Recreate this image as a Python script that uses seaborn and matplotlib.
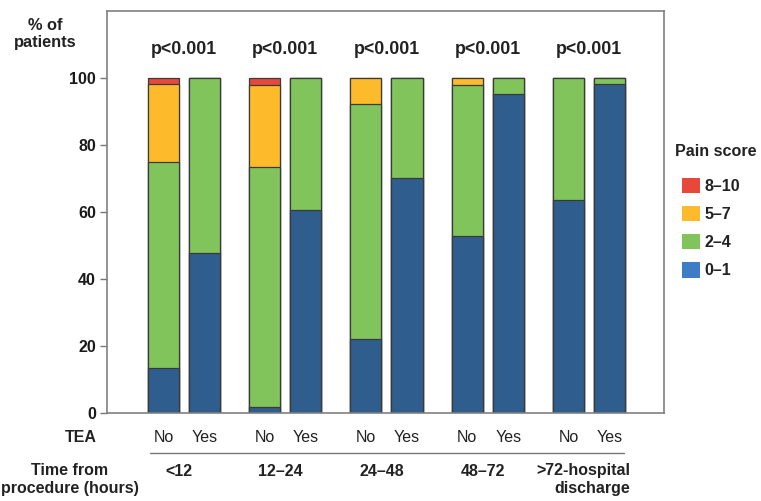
import matplotlib
matplotlib.use("Agg")
import matplotlib.pyplot as plt
import seaborn as sns
import pandas as pd
import numpy as np
from matplotlib.patches import Patch
from matplotlib.lines import Line2D
from matplotlib.transforms import blended_transform_factory

groups = ["<12", "12\u201324", "24\u201348", "48\u201372", ">72-hospital\ndischarge"]
tea = ["No", "Yes"]
p_values = ["p<0.001"] * 5
score_labels = ["8\u201310", "5\u20137", "2\u20134", "0\u20131"]

# percentages per (group, TEA) in order: No, Yes for each group
score_0_1 = [13.4, 47.9, 2.0, 60.7, 22.0, 70.2, 52.7, 95.2, 63.7, 98.2]
score_2_4 = [61.6, 52.1, 71.5, 39.3, 70.3, 29.8, 45.2, 4.8, 36.3, 1.8]
score_5_7 = [23.2, 0.0, 24.4, 0.0, 7.7, 0.0, 2.1, 0.0, 0.0, 0.0]
score_8_10 = [1.8, 0.0, 2.1, 0.0, 0.0, 0.0, 0.0, 0.0, 0.0, 0.0]

bar_colors = {"8\u201310": "#E8483C", "5\u20137": "#FDBB2B", "2\u20134": "#82C45C", "0\u20131": "#2F5D8D"}
legend_colors = {"8\u201310": "#E8483C", "5\u20137": "#FDBB2B", "2\u20134": "#82C45C", "0\u20131": "#3E7DC6"}

sns.set_style("white")
plt.rcParams["font.family"] = ["Liberation Sans", "DejaVu Sans"]

df = pd.DataFrame({
    "group": [g for g in groups for _ in tea],
    "TEA": tea * len(groups),
    "0\u20131": score_0_1,
    "2\u20134": score_2_4,
    "5\u20137": score_5_7,
    "8\u201310": score_8_10,
})
df["c0"] = df["0\u20131"]
df["c1"] = df["c0"] + df["2\u20134"]
df["c2"] = df["c1"] + df["5\u20137"]
df["c3"] = df["c2"] + df["8\u201310"]

W, H = 761, 501
fig = plt.figure(figsize=(W / 100, H / 100), dpi=100)
ax_left, ax_right, ax_top, ax_bot = 107, 664, 10.7, 413.3
ax = fig.add_axes([ax_left / W, 1 - ax_bot / H, (ax_right - ax_left) / W, (ax_bot - ax_top) / H])

layers = [("c3", "8\u201310"), ("c2", "5\u20137"), ("c1", "2\u20134"), ("c0", "0\u20131")]
for col, lab in layers:
    c = bar_colors[lab]
    sns.barplot(data=df, x="group", y=col, hue="TEA", hue_order=tea, order=groups,
                palette={"No": c, "Yes": c}, dodge=True, width=0.812, gap=0.244,
                saturation=1, edgecolor="#3a3a3a", linewidth=0.9, legend=False,
                ax=ax, errorbar=None)

ax.set_xlim(-0.760, 4.741)
ax.set_ylim(0, 120)
ax.set_yticks([0, 20, 40, 60, 80, 100])
ax.set_yticklabels(["0", "20", "40", "60", "80", "100"], fontsize=11.5, fontweight="bold", color="#1a1a1a")
ax.set_xticks([])
ax.set_xlabel("")
ax.set_ylabel("")
ax.tick_params(axis="y", direction="out", length=5, width=1, color="#777777", pad=3, left=True)
for s in ax.spines.values():
    s.set_color("#808080")
    s.set_linewidth(1.2)

# p-values
for i, p in enumerate(p_values):
    ax.text(i, 108.5, p, ha="center", va="center", fontsize=12.8, fontweight="bold", color="#222222")

def fy(py):
    return 1 - py / H

trans = blended_transform_factory(ax.transData, fig.transFigure)
offset = 0.203
for i in range(len(groups)):
    ax.text(i - offset, fy(437), "No", transform=trans, ha="center", va="center", fontsize=11.5, color="#222222")
    ax.text(i + offset, fy(437), "Yes", transform=trans, ha="center", va="center", fontsize=11.5, color="#222222")

for i, g in enumerate(groups[:-1]):
    ax.text(i - 0.05, fy(472), g, transform=trans, ha="center", va="center", fontsize=11.5, fontweight="bold", color="#222222")
fig.text(630 / W, fy(463), groups[-1], ha="right", va="top", fontsize=11.5, fontweight="bold",
         color="#222222", linespacing=1.25)

fig.text(81 / W, fy(437), "TEA", ha="center", va="center", fontsize=11.5, fontweight="bold", color="#222222")
fig.text(70 / W, fy(463), "Time from\nprocedure (hours)", ha="center", va="top", fontsize=11.5,
         fontweight="bold", color="#222222", linespacing=1.25)
fig.text(45 / W, fy(18), "% of\npatients", ha="center", va="top", fontsize=11.8, fontweight="bold",
         color="#222222", linespacing=1.2)

fig.add_artist(Line2D([150 / W, 624 / W], [fy(453), fy(453)], transform=fig.transFigure,
                      color="#777777", linewidth=1.0))

# legend
fig.text(675 / W, fy(151), "Pain score", ha="left", va="center", fontsize=11.6,
         fontweight="bold", color="#222222")
handles = [Patch(facecolor=legend_colors[l], edgecolor="none") for l in score_labels]
leg = fig.legend(handles, score_labels, loc="upper left",
                 bbox_to_anchor=(674 / W, fy(170)), frameon=False, fontsize=11.5,
                 handlelength=1.15, handleheight=1.1, handletextpad=0.25,
                 labelspacing=0.75, borderpad=0)
for t in leg.get_texts():
    t.set_fontweight("bold")
    t.set_color("#222222")

fig.savefig("out.png", dpi=100)
